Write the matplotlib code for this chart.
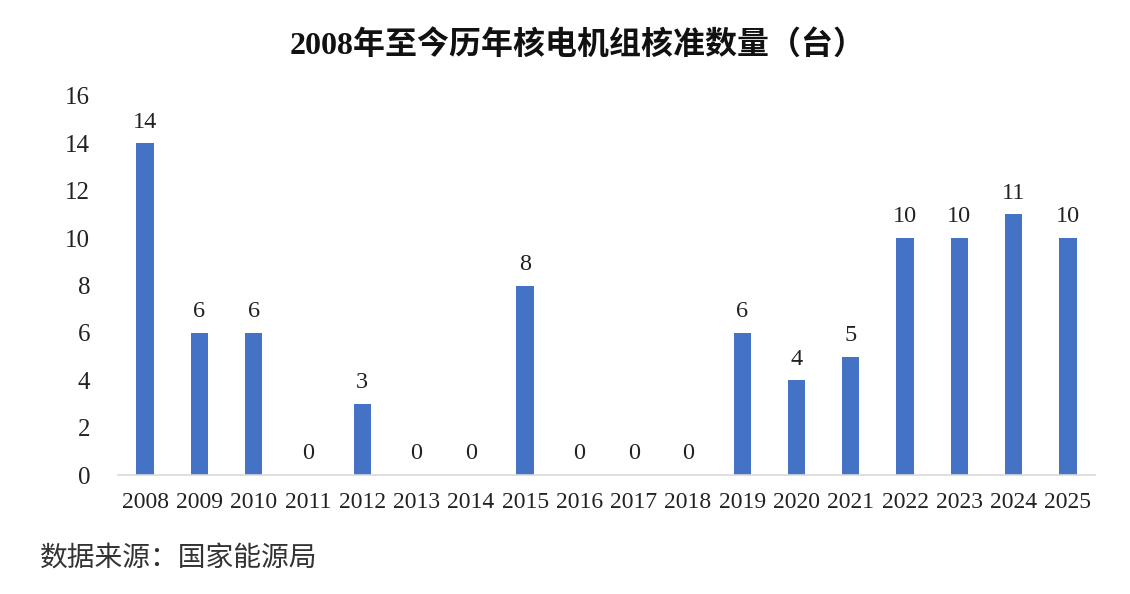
import matplotlib.pyplot as plt

plt.rcParams['font.family'] = ['Liberation Serif', 'Noto Sans CJK SC', 'DejaVu Sans']

years = ['2008', '2009', '2010', '2011', '2012', '2013', '2014', '2015', '2016',
         '2017', '2018', '2019', '2020', '2021', '2022', '2023', '2024', '2025']
approvals = [14, 6, 6, 0, 3, 0, 0, 8, 0, 0, 0, 6, 4, 5, 10, 10, 11, 10]
y_ticks = [0, 2, 4, 6, 8, 10, 12, 14, 16]

fig = plt.figure(figsize=(11.3, 5.94), dpi=100)
ax = fig.add_axes([118 / 1130, 1 - 475 / 594, (1095 - 118) / 1130, (475 - 96) / 594])

x = range(len(years))
bars = ax.bar(x, approvals, width=0.32, color='#4472C4')
for xi, v in zip(x, approvals):
    ax.text(xi, v + 0.45, str(v), ha='center', va='bottom', fontsize=17.5, color='#222222')

ax.set_xlim(-0.5, len(years) - 0.5)
ax.set_ylim(0, 16)
ax.set_yticks(y_ticks)
ax.set_yticklabels([str(t) for t in y_ticks], fontsize=18, color='#222222')
ax.set_xticks(list(x))
ax.set_xticklabels(years, fontsize=17, color='#222222')
ax.tick_params(axis='both', length=0)
ax.tick_params(axis='y', pad=20)
ax.tick_params(axis='x', pad=12)
for s in ['top', 'right', 'left']:
    ax.spines[s].set_visible(False)
ax.spines['bottom'].set_color('#D9D9D9')
ax.spines['bottom'].set_linewidth(1.2)

fig.text(578 / 1130, 1 - 45 / 594, '2008年至今历年核电机组核准数量（台）', ha='center', va='center',
         fontsize=23, fontweight='bold', color='#111111')
fig.text(40 / 1130, 1 - 558 / 594, '数据来源：国家能源局', ha='left', va='center',
         fontsize=20, color='#333333', family=['Noto Sans CJK SC'])

fig.savefig('out.png', dpi=100)
